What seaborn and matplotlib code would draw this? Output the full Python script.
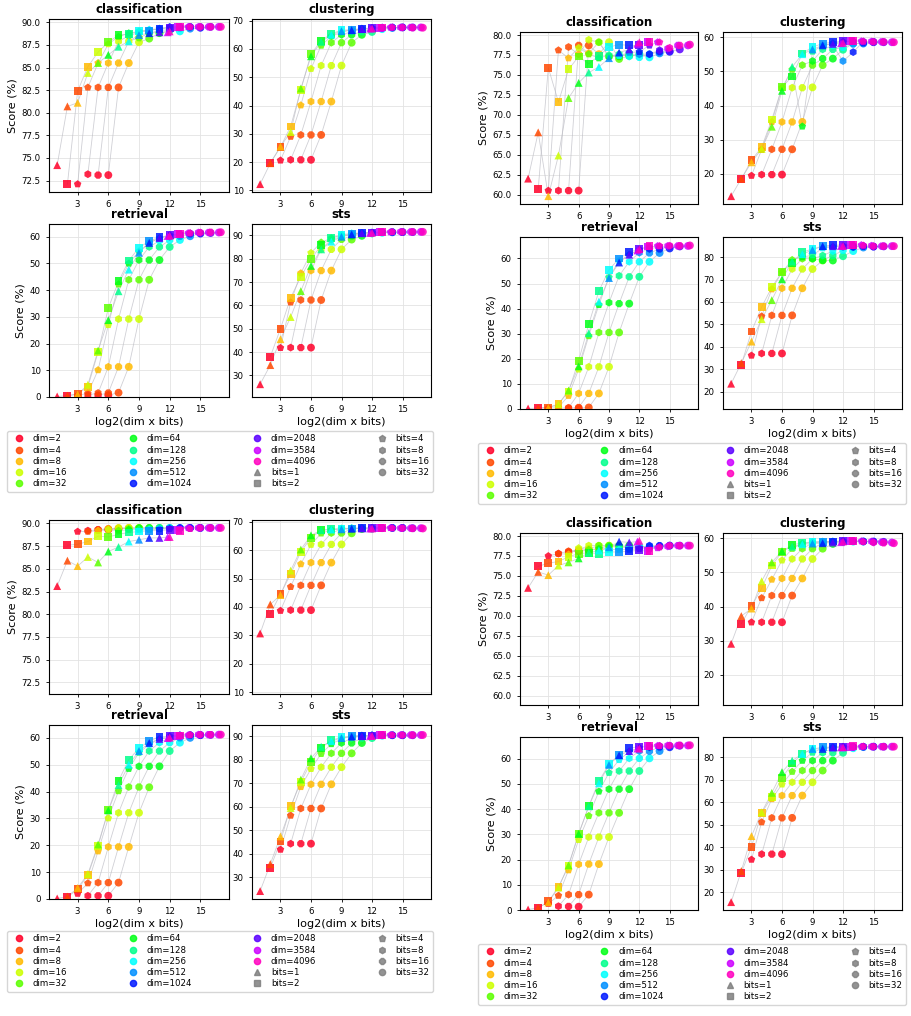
import numpy as np
import pandas as pd
import matplotlib
matplotlib.use("Agg")
import matplotlib.pyplot as plt
from matplotlib.lines import Line2D
from matplotlib.ticker import MultipleLocator
import seaborn as sns

dims = [2, 4, 8, 16, 32, 64, 128, 256, 512, 1024, 2048, 3584, 4096]
bits = [1, 2, 4, 8, 16, 32]
tasks = ["classification", "clustering", "retrieval", "sts"]

# rows = dims, columns = bits (1, 2, 4, 8, 16, 32)
tl_cls = [[74.2, 72.1, 72.1, 73.2, 73.1, 73.1], [80.7, 82.4, 82.8, 82.8, 82.8, 82.8],
          [81.1, 85.1, 85.5, 85.5, 85.5, 85.5], [84.4, 86.7, 87.6, 87.9, 87.9, 87.8],
          [85.5, 87.8, 88.4, 88.5, 88.3, 88.2], [86.4, 88.6, 88.8, 88.9, 88.8, 88.8],
          [87.3, 88.7, 89.0, 89.1, 89.1, 89.1], [87.9, 89.0, 89.2, 89.3, 89.2, 89.0],
          [88.6, 89.1, 89.3, 89.4, 89.4, 89.3], [88.8, 89.3, 89.5, 89.5, 89.5, 89.4],
          [88.9, 89.4, 89.5, 89.5, 89.5, 89.5], [88.9, 89.5, 89.5, 89.5, 89.5, 89.5],
          [89.0, 89.5, 89.5, 89.5, 89.5, 89.5]]
tl_clu = [[12.2, 19.7, 20.6, 20.8, 20.8, 20.8], [19.6, 25.3, 29.0, 29.6, 29.6, 29.6],
          [25.5, 32.6, 40.1, 41.4, 41.4, 41.4], [30.6, 45.5, 53.0, 54.1, 54.1, 54.1],
          [46.0, 58.2, 61.2, 62.2, 62.2, 62.2], [57.4, 62.9, 64.5, 65.0, 65.0, 65.0],
          [62.5, 65.4, 65.9, 66.1, 66.1, 66.0], [65.0, 66.6, 66.8, 67.0, 67.1, 67.0],
          [66.3, 66.8, 67.2, 67.3, 67.4, 67.4], [66.6, 67.0, 67.4, 67.5, 67.6, 67.6],
          [67.0, 67.3, 67.6, 67.6, 67.6, 67.6], [67.2, 67.5, 67.6, 67.6, 67.6, 67.6],
          [67.2, 67.6, 67.6, 67.6, 67.5, 67.5]]
tl_ret = [[0.2, 0.5, 0.6, 0.7, 0.7, 0.7], [0.5, 1.2, 1.4, 1.5, 1.5, 1.6],
          [1.0, 3.8, 10.1, 11.3, 11.3, 11.3], [4.6, 16.8, 27.0, 29.2, 29.2, 29.2],
          [17.4, 33.3, 42.2, 43.9, 43.9, 43.9], [28.8, 43.3, 50.0, 51.3, 51.3, 51.3],
          [39.6, 51.1, 54.5, 56.2, 56.2, 56.2], [47.7, 55.9, 57.8, 58.5, 58.7, 58.8],
          [54.0, 58.4, 59.5, 60.0, 60.2, 60.2], [57.7, 59.8, 60.6, 60.9, 61.1, 61.2],
          [59.5, 60.6, 61.1, 61.3, 61.4, 61.4], [60.3, 61.0, 61.4, 61.6, 61.6, 61.6],
          [60.4, 61.1, 61.4, 61.6, 61.7, 61.7]]
tl_sts = [[26.2, 38.0, 41.8, 41.9, 41.9, 41.9], [34.4, 50.0, 61.3, 62.3, 62.3, 62.3],
          [45.5, 63.3, 73.8, 74.9, 74.9, 74.9], [55.0, 72.2, 82.5, 84.0, 84.0, 84.0],
          [66.1, 79.9, 87.0, 88.2, 88.3, 88.2], [76.9, 85.7, 88.8, 89.5, 89.8, 89.8],
          [84.0, 88.9, 90.2, 90.6, 90.8, 90.8], [87.3, 90.0, 90.9, 91.0, 91.1, 91.1],
          [89.4, 90.5, 91.0, 91.2, 91.3, 91.3], [90.4, 91.0, 91.2, 91.4, 91.4, 91.4],
          [90.9, 91.2, 91.4, 91.4, 91.4, 91.4], [91.0, 91.3, 91.4, 91.5, 91.5, 91.5],
          [91.1, 91.4, 91.5, 91.5, 91.5, 91.5]]

tr_cls = [[62.0, 60.7, 60.5, 60.5, 60.5, 60.5], [67.8, 75.9, 78.1, 78.5, 78.7, 78.7],
          [59.8, 71.6, 77.1, 77.6, 77.7, 77.6], [64.9, 75.7, 78.4, 79.4, 79.1, 79.1],
          [72.1, 77.3, 77.6, 79.1, 77.3, 77.0], [74.0, 76.4, 77.1, 77.3, 77.3, 77.4],
          [75.3, 77.4, 77.5, 77.6, 77.7, 77.6], [76.0, 78.5, 77.4, 77.3, 77.2, 77.2],
          [77.1, 78.8, 77.8, 77.6, 77.6, 77.7], [77.8, 78.7, 77.9, 77.6, 77.9, 77.9],
          [78.2, 78.7, 78.7, 78.1, 78.0, 78.2], [78.9, 79.1, 79.1, 78.3, 78.7, 78.7],
          [79.1, 79.1, 79.1, 78.4, 78.7, 78.8]]
tr_clu = [[13.5, 18.5, 19.5, 19.8, 19.8, 19.8], [18.6, 24.0, 27.1, 27.2, 27.2, 27.2],
          [23.4, 27.8, 35.2, 35.2, 35.2, 35.2], [27.3, 35.9, 45.2, 45.2, 45.2, 45.3],
          [33.8, 45.3, 50.5, 51.8, 51.8, 51.8], [44.3, 48.5, 33.9, 53.0, 53.7, 53.7],
          [51.3, 55.2, 55.8, 56.4, 56.4, 56.3], [55.0, 57.1, 57.5, 57.5, 57.0, 58.1],
          [56.4, 58.1, 58.2, 53.0, 58.0, 58.1], [57.6, 58.5, 58.6, 55.6, 58.3, 58.5],
          [58.0, 58.8, 58.8, 58.7, 58.6, 58.5], [58.2, 58.8, 58.8, 58.7, 58.6, 58.5],
          [58.3, 58.9, 58.7, 58.6, 58.6, 58.5]]
tr_ret = [[0.2, 0.4, 0.3, 0.3, 0.3, 0.3], [0.4, 0.6, 0.6, 0.5, 0.6, 0.6],
          [0.5, 2.0, 5.3, 6.2, 6.2, 6.2], [1.8, 7.0, 15.8, 16.8, 16.8, 16.8],
          [7.4, 19.3, 29.1, 30.5, 30.5, 30.5], [17.0, 33.8, 41.5, 42.4, 42.0, 42.0],
          [30.2, 47.0, 52.5, 53.1, 52.7, 52.7], [42.8, 55.5, 59.0, 58.7, 58.7, 58.7],
          [52.2, 60.0, 61.5, 62.3, 62.2, 62.2], [58.4, 62.5, 63.5, 63.8, 63.8, 64.0],
          [61.5, 63.8, 64.5, 64.7, 64.8, 64.8], [63.2, 64.8, 65.0, 65.0, 65.0, 65.0],
          [63.7, 65.0, 65.0, 65.1, 65.1, 65.2]]
tr_sts = [[23.5, 32.0, 36.1, 37.0, 37.0, 37.0], [32.7, 46.8, 53.6, 54.0, 54.0, 54.0],
          [42.3, 57.7, 65.7, 66.1, 66.1, 66.1], [52.3, 66.6, 73.2, 74.7, 74.7, 74.7],
          [60.8, 73.4, 78.8, 79.3, 79.3, 78.5], [70.1, 77.5, 80.0, 79.3, 78.6, 78.5],
          [78.1, 82.2, 80.9, 80.7, 80.7, 80.4], [81.3, 83.7, 84.0, 82.7, 83.0, 82.7],
          [83.2, 84.9, 84.6, 84.5, 84.5, 84.3], [84.9, 85.3, 85.0, 84.5, 84.8, 84.7],
          [84.9, 85.5, 85.3, 85.0, 84.7, 84.8], [85.0, 85.5, 85.4, 85.1, 84.9, 84.9],
          [85.0, 85.5, 85.2, 84.9, 84.9, 84.9]]

bl_cls = [[83.1, 87.6, 89.1, 89.2, 89.3, 89.3], [85.9, 87.7, 89.1, 89.3, 89.4, 89.4],
          [85.3, 88.0, 89.2, 89.4, 89.5, 89.5], [86.3, 88.6, 89.3, 89.5, 89.5, 89.5],
          [85.7, 88.5, 89.2, 89.4, 89.5, 89.5], [86.9, 88.8, 89.3, 89.5, 89.5, 89.5],
          [87.4, 89.0, 89.3, 89.4, 89.5, 89.5], [88.0, 89.1, 89.3, 89.4, 89.5, 89.5],
          [88.2, 89.2, 89.4, 89.5, 89.5, 89.5], [88.4, 89.2, 89.4, 89.5, 89.5, 89.5],
          [88.4, 89.3, 89.5, 89.5, 89.5, 89.5], [88.5, 89.3, 89.5, 89.5, 89.5, 89.5],
          [88.5, 89.2, 89.4, 89.5, 89.5, 89.5]]
bl_clu = [[30.7, 37.6, 38.7, 38.9, 38.9, 38.9], [40.9, 44.5, 47.1, 47.6, 47.6, 47.6],
          [44.2, 51.6, 55.1, 55.6, 55.6, 55.6], [52.8, 59.4, 61.9, 62.0, 62.0, 62.0],
          [60.2, 64.3, 65.9, 66.0, 66.0, 65.9], [65.2, 67.0, 67.1, 67.4, 67.4, 67.4],
          [67.0, 67.4, 67.6, 67.7, 67.7, 67.5], [67.2, 67.6, 67.7, 67.7, 67.7, 67.7],
          [67.3, 67.6, 67.7, 67.8, 67.8, 67.8], [67.5, 67.7, 67.8, 67.8, 67.8, 67.8],
          [67.6, 67.8, 67.8, 67.8, 67.8, 67.7], [67.6, 67.8, 67.8, 67.7, 67.7, 67.7],
          [67.6, 67.8, 67.7, 67.7, 67.6, 67.6]]
bl_ret = [[0.2, 0.7, 2.0, 1.2, 1.2, 1.2], [0.9, 3.6, 5.9, 6.1, 6.1, 6.1],
          [4.1, 8.8, 17.8, 19.4, 19.4, 19.4], [9.3, 19.8, 30.1, 32.1, 32.1, 32.1],
          [20.3, 33.0, 40.2, 41.7, 41.7, 41.6], [33.0, 44.0, 48.5, 49.4, 49.4, 49.4],
          [42.4, 51.9, 54.5, 55.1, 55.1, 55.1], [50.0, 56.1, 57.5, 58.2, 58.2, 58.2],
          [55.1, 58.9, 59.6, 60.0, 60.0, 60.0], [58.1, 60.3, 60.6, 60.9, 61.0, 61.0],
          [59.6, 60.6, 61.0, 61.1, 61.1, 61.1], [59.9, 60.8, 61.0, 61.2, 61.2, 61.2],
          [60.1, 60.9, 61.1, 61.2, 61.2, 61.2]]
bl_sts = [[24.1, 34.0, 41.8, 44.3, 44.3, 44.3], [35.6, 45.2, 56.3, 59.3, 59.3, 59.3],
          [47.4, 60.2, 68.5, 69.6, 69.6, 69.6], [59.5, 70.5, 76.2, 76.9, 76.9, 76.9],
          [71.6, 79.0, 82.6, 82.8, 82.8, 82.8], [80.7, 85.1, 86.8, 87.2, 87.2, 87.2],
          [85.6, 88.4, 89.0, 89.3, 89.3, 89.3], [88.0, 89.6, 90.1, 90.2, 90.3, 90.3],
          [89.3, 90.1, 90.4, 90.5, 90.5, 90.5], [89.9, 90.3, 90.5, 90.5, 90.5, 90.5],
          [90.1, 90.4, 90.5, 90.5, 90.5, 90.5], [90.2, 90.5, 90.6, 90.6, 90.6, 90.6],
          [90.2, 90.5, 90.6, 90.6, 90.6, 90.6]]

br_cls = [[73.5, 76.2, 77.5, 77.8, 78.0, 78.1], [75.5, 76.6, 77.8, 78.1, 78.1, 78.2],
          [75.1, 76.8, 77.7, 78.3, 78.4, 78.4], [76.3, 77.4, 78.5, 78.8, 78.8, 78.8],
          [76.7, 77.8, 78.3, 78.8, 78.8, 78.7], [77.2, 77.9, 78.4, 78.7, 78.8, 78.8],
          [77.9, 77.8, 78.3, 78.6, 78.6, 78.7], [78.2, 78.0, 78.3, 78.5, 78.6, 78.6],
          [78.6, 78.0, 78.3, 78.5, 78.7, 78.7], [79.3, 78.1, 78.4, 78.8, 78.8, 78.8],
          [79.2, 78.2, 78.4, 78.7, 78.8, 78.8], [79.3, 78.1, 78.5, 78.7, 78.8, 78.8],
          [79.4, 78.1, 78.6, 78.8, 78.8, 78.8]]
br_clu = [[29.1, 35.0, 35.4, 35.4, 35.4, 35.4], [37.2, 40.1, 42.5, 43.2, 43.2, 43.2],
          [39.4, 45.3, 47.9, 48.2, 48.2, 48.2], [47.4, 52.0, 53.5, 53.9, 53.9, 53.9],
          [52.9, 55.9, 56.9, 56.9, 56.9, 56.9], [56.2, 58.1, 58.4, 58.6, 58.6, 58.3],
          [57.5, 58.5, 58.8, 58.9, 58.9, 58.9], [58.2, 58.8, 59.0, 59.0, 59.0, 59.0],
          [58.4, 58.9, 59.0, 59.0, 59.0, 59.0], [58.5, 59.0, 59.1, 59.1, 59.0, 59.0],
          [58.7, 59.2, 59.1, 59.0, 58.9, 58.9], [58.8, 59.2, 59.1, 59.0, 58.8, 58.7],
          [59.0, 59.1, 58.9, 58.7, 58.6, 58.5]]
br_ret = [[0.2, 0.8, 2.5, 1.5, 1.4, 1.3], [0.9, 3.4, 5.7, 6.1, 6.1, 6.1],
          [3.0, 9.0, 15.8, 18.1, 18.2, 18.2], [8.9, 17.6, 27.8, 28.9, 28.9, 28.9],
          [17.7, 30.1, 37.3, 38.5, 38.5, 38.5], [30.2, 41.2, 47.0, 47.9, 47.9, 47.9],
          [41.1, 51.1, 54.4, 55.1, 55.1, 55.1], [50.2, 57.7, 59.5, 60.1, 60.1, 60.1],
          [57.5, 61.6, 62.7, 63.0, 62.9, 63.0], [61.3, 64.1, 64.3, 64.5, 64.6, 64.5],
          [63.0, 64.8, 65.0, 65.0, 65.1, 65.1], [64.0, 65.0, 65.1, 65.2, 65.2, 65.2],
          [64.0, 65.0, 65.1, 65.2, 65.3, 65.3]]
br_sts = [[15.7, 28.7, 34.6, 37.0, 37.0, 37.0], [29.5, 40.3, 51.2, 53.1, 53.1, 53.1],
          [45.0, 55.3, 61.5, 63.0, 63.0, 63.0], [55.6, 62.4, 68.0, 68.9, 68.9, 68.9],
          [64.2, 70.8, 73.6, 74.1, 74.1, 74.1], [73.4, 77.2, 78.5, 78.5, 78.5, 78.5],
          [78.5, 81.5, 82.1, 82.0, 82.0, 82.0], [81.5, 83.7, 84.0, 84.0, 84.0, 84.0],
          [83.7, 84.4, 84.5, 84.5, 84.5, 84.5], [83.7, 84.6, 84.7, 84.7, 84.7, 84.7],
          [84.3, 84.7, 84.7, 84.7, 84.7, 84.7], [84.4, 84.7, 84.7, 84.7, 84.7, 84.7],
          [84.4, 84.9, 84.8, 84.7, 84.7, 84.7]]

panels = {
    "tl": [tl_cls, tl_clu, tl_ret, tl_sts],
    "tr": [tr_cls, tr_clu, tr_ret, tr_sts],
    "bl": [bl_cls, bl_clu, bl_ret, bl_sts],
    "br": [br_cls, br_clu, br_ret, br_sts],
}

colors = plt.cm.gist_rainbow(np.linspace(0, 1, len(dims)))
palette = {f"dim={d}": colors[i] for i, d in enumerate(dims)}
markers = {1: "^", 2: "s", 4: "p", 8: "h", 16: "8", 32: "o"}


def to_frame(scores):
    rows = []
    for i, d in enumerate(dims):
        for j, b in enumerate(bits):
            rows.append({"dim": f"dim={d}", "bits": b,
                         "x": np.log2(d * b), "score": scores[i][j]})
    return pd.DataFrame(rows)


# layout in pixels: axis columns, axis rows, legend (left, top, right)
W, H = 911, 1016
layout = {
    "tl": ([(49, 229), (252, 431)], [(19, 192), (224, 397)], (7, 431, 433)),
    "tr": ([(520, 698), (723, 902)], [(32, 204), (237, 409)], (478, 443, 906)),
    "bl": ([(49, 229), (252, 431)], [(520, 694), (725, 899)], (7, 931, 433)),
    "br": ([(520, 698), (723, 902)], [(533, 705), (737, 910)], (478, 944, 906)),
}
share = {"tl": "left", "bl": "left", "tr": "right", "br": "right"}

plt.rcParams["font.family"] = "DejaVu Sans"
fig = plt.figure(figsize=(W / 100, H / 100), dpi=100)
groups = {}

for quad, (cols, rows, leg) in layout.items():
    for k, task in enumerate(tasks):
        r, c = divmod(k, 2)
        (x0, x1), (y0, y1) = cols[c], rows[r]
        ax = fig.add_axes([x0 / W, 1 - y1 / H, (x1 - x0) / W, (y1 - y0) / H])
        df = to_frame(panels[quad][k])
        sns.lineplot(data=df, x="x", y="score", units="bits", estimator=None,
                     color="#bcbcc4", lw=0.6, alpha=0.7, legend=False, ax=ax, zorder=1)
        sns.scatterplot(data=df, x="x", y="score", hue="dim", palette=palette,
                        style="bits", markers=markers, s=32, alpha=0.85,
                        linewidth=0, legend=False, ax=ax, zorder=3)
        ax.set_title(task, fontsize=8.5, fontweight="bold", pad=4)
        ax.set_xticks([3, 6, 9, 12, 15])
        ax.yaxis.set_major_locator(MultipleLocator(2.5 if task == "classification" else 10))
        ax.tick_params(labelsize=6.2, length=2.5, width=0.6)
        ax.grid(True, color="#e3e3e3", lw=0.6)
        ax.set_axisbelow(True)
        for sp in ax.spines.values():
            sp.set_linewidth(0.8)
        ax.set_xlabel("log2(dim x bits)" if r == 1 else "", fontsize=8.1, labelpad=2)
        ax.set_ylabel("Score (%)" if c == 0 else "", fontsize=8.1, labelpad=3)
        groups.setdefault((share[quad], task), []).append((ax, df["score"]))

    handles = [Line2D([], [], ls="", marker="o", color=palette[f"dim={d}"], alpha=0.85,
                      markersize=4.5, label=f"dim={d}") for d in dims]
    handles += [Line2D([], [], ls="", marker=markers[b], color="gray", alpha=0.85,
                       markersize=4.5, label=f"bits={b}") for b in bits]
    lx0, ly0, lx1 = leg
    fig.legend(handles=handles, ncol=4, loc="upper left", mode="expand",
               bbox_to_anchor=(lx0 / W, 1 - (ly0 + 66) / H, (lx1 - lx0) / W, 66 / H),
               fontsize=6.2, labelspacing=0.25, borderpad=0.4, handletextpad=0.6,
               borderaxespad=0, frameon=True, edgecolor="#cccccc")

# shared y-range per task for the left pair and the right pair
for (side, task), items in groups.items():
    lo = min(s.min() for _, s in items)
    hi = max(s.max() for _, s in items)
    m = (hi - lo) * 0.05
    for ax, _ in items:
        if task == "retrieval":
            ax.set_ylim(0, hi + hi * 0.05)
        else:
            ax.set_ylim(lo - m, hi + m)
        ax.set_xlim(0.2, 17.8)

fig.savefig("out.png", dpi=100)
